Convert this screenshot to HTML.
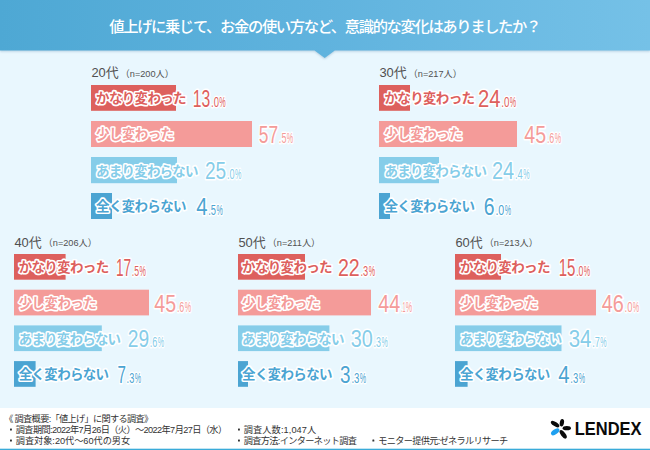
<!DOCTYPE html>
<html lang="ja"><head><meta charset="utf-8"><title>値上げに関する調査</title>
<style>
html,body{margin:0;padding:0}
body{width:650px;height:450px;position:relative;overflow:hidden;background:#e9f7fe;font-family:"Liberation Sans",sans-serif}
.hdrw{position:absolute;left:0;top:0;width:650px;height:60px;filter:drop-shadow(0 1px 1.2px rgba(70,120,160,.32))}
.hdr{width:650px;height:60px;background:linear-gradient(90deg,#4ea8d4 0%,#60b3de 50%,#75c1e7 100%);clip-path:polygon(0 0,650px 0,650px 50.6px,334.8px 50.6px,324.7px 57.9px,314.6px 50.6px,0 50.6px)}
svg{position:absolute;left:0;top:0}
svg text{font-family:"Liberation Sans","Noto Sans CJK JP",sans-serif}
.lb{font-size:13.5px;font-weight:700;stroke:#fff;stroke-width:3.2px;stroke-linejoin:round;paint-order:stroke}
.nm{stroke:#fff;stroke-width:3.2px;stroke-linejoin:round;paint-order:stroke}
.ag{font-size:12.9px;fill:#505050}
.nn{font-size:9.2px;fill:#505050}
.ft{font-size:9.2px;fill:#333}
.sr{position:absolute;left:0;top:0;width:1px;height:1px;overflow:hidden;color:transparent;font-size:1px;line-height:1px;white-space:nowrap}
</style></head><body>
<div class="hdrw"><div class="hdr"></div></div>
<svg width="650" height="450" viewBox="0 0 650 450">
<rect x="0" y="408" width="650" height="42" fill="#fff"/><rect x="0" y="448.7" width="650" height="1.3" fill="#3aabd9"/>
<rect x="91" y="85" width="85" height="25.8" fill="#dd605d"/><rect x="91" y="121" width="161" height="26" fill="#f49b99"/><rect x="91" y="157" width="86" height="26.2" fill="#86cde9"/><rect x="91" y="193" width="21" height="26" fill="#4ba4d2"/><rect x="379" y="85" width="31" height="25.8" fill="#dd605d"/><rect x="379" y="121" width="138" height="26" fill="#f49b99"/><rect x="379" y="157" width="60" height="26.2" fill="#86cde9"/><rect x="379" y="193" width="11" height="26" fill="#4ba4d2"/><rect x="14" y="254.0" width="51.6" height="25.7" fill="#dd605d"/><rect x="14" y="289.7" width="135" height="25.7" fill="#f49b99"/><rect x="14" y="325.4" width="87.8" height="25.7" fill="#86cde9"/><rect x="14" y="361.1" width="21.6" height="25.7" fill="#4ba4d2"/><rect x="238" y="254.0" width="67" height="25.7" fill="#dd605d"/><rect x="238" y="289.7" width="133" height="25.7" fill="#f49b99"/><rect x="238" y="325.4" width="91.4" height="25.7" fill="#86cde9"/><rect x="238" y="361.1" width="10" height="25.7" fill="#4ba4d2"/><rect x="455" y="254.0" width="46" height="25.7" fill="#dd605d"/><rect x="455" y="289.7" width="141" height="25.7" fill="#f49b99"/><rect x="455" y="325.4" width="106.5" height="25.7" fill="#86cde9"/><rect x="455" y="361.1" width="12.6" height="25.7" fill="#4ba4d2"/><defs><filter id="bl" x="-5%" y="-30%" width="110%" height="160%"><feGaussianBlur stdDeviation="0.45"/></filter></defs>
<text x="109.3" y="32" font-size="15.3" font-weight="500" fill="#fff" textLength="432">値上げに乗じて、お金の使い方など、意識的な変化はありましたか？</text>

<text class="ag" x="91.4" y="77">20代</text>
<text class="nn" x="120.6" y="76.6">（n=200人）</text>
<text class="lb" x="96.1" y="103.35" fill="#dd605d" textLength="90.5">かなり変わった</text>
<text class="nm" y="106.9" fill="#dd605d"><tspan x="192.78" font-size="23.5" textLength="17.4" lengthAdjust="spacingAndGlyphs">13</tspan><tspan x="210.97" font-size="14" textLength="8.0" lengthAdjust="spacingAndGlyphs">.0</tspan><tspan x="219.35" font-size="14" textLength="6.4" lengthAdjust="spacingAndGlyphs">%</tspan></text>
<text class="lb" x="96.1" y="139.45" fill="#f49b99" textLength="78">少し変わった</text>
<text class="nm" y="143" fill="#f49b99"><tspan x="258.76" font-size="23.5" textLength="19.3" lengthAdjust="spacingAndGlyphs">57</tspan><tspan x="278.85" font-size="14" textLength="7.6" lengthAdjust="spacingAndGlyphs">.5</tspan><tspan x="286.85" font-size="14" textLength="6.4" lengthAdjust="spacingAndGlyphs">%</tspan></text>
<text class="lb" x="96.1" y="175.55" fill="#86cde9" textLength="102.4">あまり変わらない</text>
<text class="nm" y="179.1" fill="#86cde9"><tspan x="204.97" font-size="23.5" textLength="21.2" lengthAdjust="spacingAndGlyphs">25</tspan><tspan x="226.96" font-size="14" textLength="7.7" lengthAdjust="spacingAndGlyphs">.0</tspan><tspan x="235.05" font-size="14" textLength="6.4" lengthAdjust="spacingAndGlyphs">%</tspan></text>
<text class="lb" x="96.1" y="211.45" fill="#4ba4d2" textLength="90.4">全く変わらない</text>
<text class="nm" y="215" fill="#4ba4d2"><tspan x="196.16" font-size="23.5" textLength="11.3" lengthAdjust="spacingAndGlyphs">4</tspan><tspan x="208.21" font-size="14" textLength="7.8" lengthAdjust="spacingAndGlyphs">.5</tspan><tspan x="216.45" font-size="14" textLength="6.4" lengthAdjust="spacingAndGlyphs">%</tspan></text>

<text class="ag" x="379.4" y="77">30代</text>
<text class="nn" x="408.6" y="76.6">（n=217人）</text>
<text class="lb" x="384.5" y="103.35" fill="#dd605d" textLength="90.5">かなり変わった</text>
<text class="nm" y="106.9" fill="#dd605d"><tspan x="477.97" font-size="23.5" textLength="22.5" lengthAdjust="spacingAndGlyphs">24</tspan><tspan x="501.27" font-size="14" textLength="8.2" lengthAdjust="spacingAndGlyphs">.0</tspan><tspan x="509.85" font-size="14" textLength="6.4" lengthAdjust="spacingAndGlyphs">%</tspan></text>
<text class="lb" x="384.5" y="139.45" fill="#f49b99" textLength="78">少し変わった</text>
<text class="nm" y="143" fill="#f49b99"><tspan x="524.26" font-size="23.5" textLength="21.8" lengthAdjust="spacingAndGlyphs">45</tspan><tspan x="546.88" font-size="14" textLength="7.4" lengthAdjust="spacingAndGlyphs">.6</tspan><tspan x="554.65" font-size="14" textLength="6.4" lengthAdjust="spacingAndGlyphs">%</tspan></text>
<text class="lb" x="384.5" y="175.55" fill="#86cde9" textLength="102.4">あまり変わらない</text>
<text class="nm" y="179.1" fill="#86cde9"><tspan x="491.97" font-size="23.5" textLength="22.2" lengthAdjust="spacingAndGlyphs">24</tspan><tspan x="515.01" font-size="14" textLength="7.8" lengthAdjust="spacingAndGlyphs">.4</tspan><tspan x="523.25" font-size="14" textLength="6.4" lengthAdjust="spacingAndGlyphs">%</tspan></text>
<text class="lb" x="384.5" y="211.45" fill="#4ba4d2" textLength="90.4">全く変わらない</text>
<text class="nm" y="215" fill="#4ba4d2"><tspan x="483.78" font-size="23.5" textLength="10.8" lengthAdjust="spacingAndGlyphs">6</tspan><tspan x="495.38" font-size="14" textLength="8.9" lengthAdjust="spacingAndGlyphs">.0</tspan><tspan x="504.65" font-size="14" textLength="6.4" lengthAdjust="spacingAndGlyphs">%</tspan></text>

<text class="ag" x="14.4" y="246.7">40代</text>
<text class="nn" x="43.6" y="246.3">（n=206人）</text>
<text class="lb" x="18.7" y="272.3" fill="#dd605d" textLength="90.5">かなり変わった</text>
<text class="nm" y="275.85" fill="#dd605d"><tspan x="115.88" font-size="23.5" textLength="15.1" lengthAdjust="spacingAndGlyphs">17</tspan><tspan x="131.77" font-size="14" textLength="7.3" lengthAdjust="spacingAndGlyphs">.5</tspan><tspan x="139.45" font-size="14" textLength="6.4" lengthAdjust="spacingAndGlyphs">%</tspan></text>
<text class="lb" x="18.7" y="308" fill="#f49b99" textLength="78">少し変わった</text>
<text class="nm" y="311.55" fill="#f49b99"><tspan x="154.26" font-size="23.5" textLength="21.8" lengthAdjust="spacingAndGlyphs">45</tspan><tspan x="176.88" font-size="14" textLength="7.4" lengthAdjust="spacingAndGlyphs">.6</tspan><tspan x="184.65" font-size="14" textLength="6.4" lengthAdjust="spacingAndGlyphs">%</tspan></text>
<text class="lb" x="18.7" y="343.7" fill="#86cde9" textLength="102.4">あまり変わらない</text>
<text class="nm" y="347.25" fill="#86cde9"><tspan x="127.77" font-size="23.5" textLength="21.3" lengthAdjust="spacingAndGlyphs">29</tspan><tspan x="149.84" font-size="14" textLength="7.6" lengthAdjust="spacingAndGlyphs">.6</tspan><tspan x="157.85" font-size="14" textLength="6.4" lengthAdjust="spacingAndGlyphs">%</tspan></text>
<text class="lb" x="18.7" y="379.4" fill="#4ba4d2" textLength="90.4">全く変わらない</text>
<text class="nm" y="382.95" fill="#4ba4d2"><tspan x="117.4" font-size="23.5" textLength="8.4" lengthAdjust="spacingAndGlyphs">7</tspan><tspan x="126.6" font-size="14" textLength="7.7" lengthAdjust="spacingAndGlyphs">.3</tspan><tspan x="134.65" font-size="14" textLength="6.4" lengthAdjust="spacingAndGlyphs">%</tspan></text>

<text class="ag" x="238.4" y="246.7">50代</text>
<text class="nn" x="267.6" y="246.3">（n=211人）</text>
<text class="lb" x="242.1" y="272.3" fill="#dd605d" textLength="90.5">かなり変わった</text>
<text class="nm" y="275.85" fill="#dd605d"><tspan x="337.97" font-size="23.5" textLength="21.8" lengthAdjust="spacingAndGlyphs">22</tspan><tspan x="360.56" font-size="14" textLength="7.7" lengthAdjust="spacingAndGlyphs">.3</tspan><tspan x="368.65" font-size="14" textLength="6.4" lengthAdjust="spacingAndGlyphs">%</tspan></text>
<text class="lb" x="242.1" y="308" fill="#f49b99" textLength="78">少し変わった</text>
<text class="nm" y="311.55" fill="#f49b99"><tspan x="378.26" font-size="23.5" textLength="21.9" lengthAdjust="spacingAndGlyphs">44</tspan><tspan x="400.91" font-size="14" textLength="4.5" lengthAdjust="spacingAndGlyphs">.1</tspan><tspan x="405.85" font-size="14" textLength="6.4" lengthAdjust="spacingAndGlyphs">%</tspan></text>
<text class="lb" x="242.1" y="343.7" fill="#86cde9" textLength="102.4">あまり変わらない</text>
<text class="nm" y="347.25" fill="#86cde9"><tspan x="350.69" font-size="23.5" textLength="22.0" lengthAdjust="spacingAndGlyphs">30</tspan><tspan x="373.53" font-size="14" textLength="7.5" lengthAdjust="spacingAndGlyphs">.3</tspan><tspan x="381.45" font-size="14" textLength="6.4" lengthAdjust="spacingAndGlyphs">%</tspan></text>
<text class="lb" x="242.1" y="379.4" fill="#4ba4d2" textLength="90.4">全く変わらない</text>
<text class="nm" y="382.95" fill="#4ba4d2"><tspan x="340.09" font-size="23.5" textLength="10.5" lengthAdjust="spacingAndGlyphs">3</tspan><tspan x="351.43" font-size="14" textLength="8.0" lengthAdjust="spacingAndGlyphs">.3</tspan><tspan x="359.85" font-size="14" textLength="6.4" lengthAdjust="spacingAndGlyphs">%</tspan></text>

<text class="ag" x="455.4" y="246.7">60代</text>
<text class="nn" x="484.6" y="246.3">（n=213人）</text>
<text class="lb" x="459.9" y="272.3" fill="#dd605d" textLength="90.5">かなり変わった</text>
<text class="nm" y="275.85" fill="#dd605d"><tspan x="558.68" font-size="23.5" textLength="16.7" lengthAdjust="spacingAndGlyphs">15</tspan><tspan x="576.17" font-size="14" textLength="7.3" lengthAdjust="spacingAndGlyphs">.0</tspan><tspan x="583.85" font-size="14" textLength="6.4" lengthAdjust="spacingAndGlyphs">%</tspan></text>
<text class="lb" x="459.9" y="308" fill="#f49b99" textLength="78">少し変わった</text>
<text class="nm" y="311.55" fill="#f49b99"><tspan x="601.66" font-size="23.5" textLength="22.1" lengthAdjust="spacingAndGlyphs">46</tspan><tspan x="624.51" font-size="14" textLength="7.9" lengthAdjust="spacingAndGlyphs">.0</tspan><tspan x="632.85" font-size="14" textLength="6.4" lengthAdjust="spacingAndGlyphs">%</tspan></text>
<text class="lb" x="459.9" y="343.7" fill="#86cde9" textLength="102.4">あまり変わらない</text>
<text class="nm" y="347.25" fill="#86cde9"><tspan x="568.69" font-size="23.5" textLength="22.7" lengthAdjust="spacingAndGlyphs">34</tspan><tspan x="592.16" font-size="14" textLength="7.7" lengthAdjust="spacingAndGlyphs">.7</tspan><tspan x="600.25" font-size="14" textLength="6.4" lengthAdjust="spacingAndGlyphs">%</tspan></text>
<text class="lb" x="459.9" y="379.4" fill="#4ba4d2" textLength="90.4">全く変わらない</text>
<text class="nm" y="382.95" fill="#4ba4d2"><tspan x="558.26" font-size="23.5" textLength="11.3" lengthAdjust="spacingAndGlyphs">4</tspan><tspan x="570.35" font-size="14" textLength="7.9" lengthAdjust="spacingAndGlyphs">.3</tspan><tspan x="578.65" font-size="14" textLength="6.4" lengthAdjust="spacingAndGlyphs">%</tspan></text>

<text class="ft" x="4.2" y="421.5">《</text>
<text class="ft" x="14.6" y="421.5" textLength="138.7">調査概要:「値上げ」に関する調査》</text>
<rect x="10" y="428.6" width="1.9" height="1.9" rx="0.3" fill="#333"/>
<text class="ft" x="15.8" y="432.5" textLength="211.3">調査期間:2022年7月26日（火）～2022年7月27日（水）</text>
<rect x="10" y="439.6" width="1.9" height="1.9" rx="0.3" fill="#333"/>
<text class="ft" x="15.8" y="443.5" textLength="114.3">調査対象:20代～60代の男女</text>
<rect x="238" y="428.6" width="1.9" height="1.9" rx="0.3" fill="#333"/>
<text class="ft" x="243.8" y="432.5" textLength="72.4">調査人数:1,047人</text>
<rect x="238" y="439.6" width="1.9" height="1.9" rx="0.3" fill="#333"/>
<text class="ft" x="243.8" y="443.5" textLength="113.1">調査方法:インターネット調査</text>
<rect x="372.4" y="439.6" width="1.9" height="1.9" rx="0.3" fill="#333"/>
<text class="ft" x="378.2" y="443.5" textLength="130">モニター提供元:ゼネラルリサーチ</text>
<ellipse cx="561.9" cy="422.7" rx="3.8" ry="2.1" transform="rotate(-80 561.9 422.7)" fill="#0a0a0a"/>
<ellipse cx="555.1" cy="424.1" rx="4.9" ry="2.1" transform="rotate(33.7 555.1 424.1)" fill="#0a0a0a"/>
<ellipse cx="566.8" cy="428.2" rx="4.15" ry="2.1" transform="rotate(0 566.8 428.2)" fill="#0a0a0a"/>
<ellipse cx="563.2" cy="434.3" rx="5.0" ry="2.25" transform="rotate(52.8 563.2 434.3)" fill="#0a0a0a"/>
<ellipse cx="555.2" cy="431.8" rx="4.8" ry="2.5" transform="rotate(-36 555.2 431.8)" fill="#1ea0f0"/>
<text x="574.8" y="435.22" font-size="17.6" font-weight="700" fill="#0a0a0a" textLength="66.8" lengthAdjust="spacingAndGlyphs">LENDEX</text>
</svg>
<div class="sr"><span>値上げに乗じて、お金の使い方など、意識的な変化はありましたか？</span><span>20代（n=200人）</span><span>かなり変わった 13.0%</span><span>少し変わった 57.5%</span><span>あまり変わらない 25.0%</span><span>全く変わらない 4.5%</span><span>30代（n=217人）</span><span>かなり変わった 24.0%</span><span>少し変わった 45.6%</span><span>あまり変わらない 24.4%</span><span>全く変わらない 6.0%</span><span>40代（n=206人）</span><span>かなり変わった 17.5%</span><span>少し変わった 45.6%</span><span>あまり変わらない 29.6%</span><span>全く変わらない 7.3%</span><span>50代（n=211人）</span><span>かなり変わった 22.3%</span><span>少し変わった 44.1%</span><span>あまり変わらない 30.3%</span><span>全く変わらない 3.3%</span><span>60代（n=213人）</span><span>かなり変わった 15.0%</span><span>少し変わった 46.0%</span><span>あまり変わらない 34.7%</span><span>全く変わらない 4.3%</span><span>調査概要:「値上げ」に関する調査》</span><span>・調査期間:2022年7月26日（火）～2022年7月27日（水）</span><span>・調査対象:20代～60代の男女</span><span>・調査人数:1,047人</span><span>・調査方法:インターネット調査</span><span>・モニター提供元:ゼネラルリサーチ</span><span>LENDEX</span></div>
</body></html>
